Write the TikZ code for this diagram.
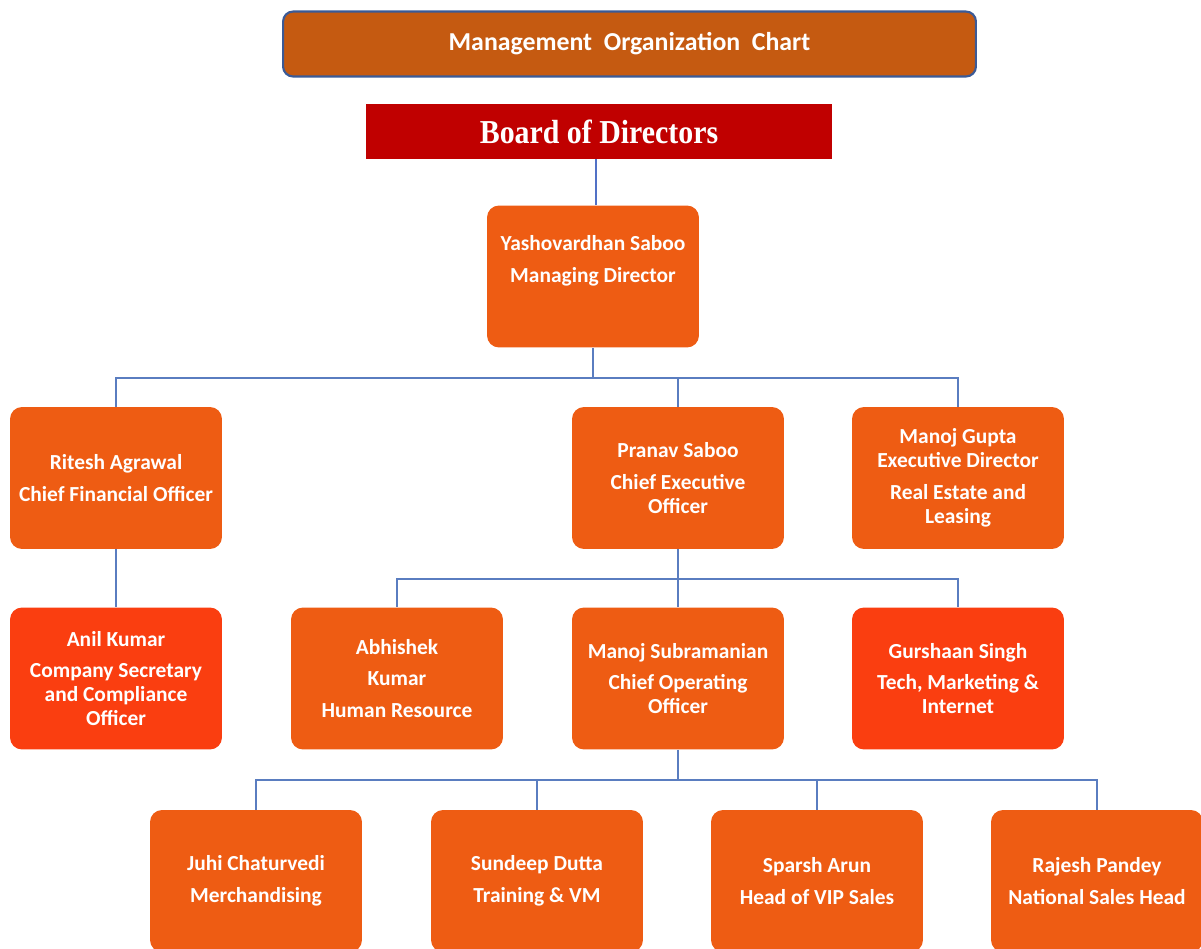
\documentclass[tikz,border=0pt]{standalone}
\usepackage{fontspec}
\setmainfont{Carlito}
\newfontfamily\boardfont{Liberation Serif}
\usetikzlibrary{calc}
\definecolor{titlefill}{HTML}{C55A11}
\definecolor{titleedge}{HTML}{3B5A96}
\definecolor{boardred}{HTML}{C00000}
\definecolor{staffor}{HTML}{EE5C13}
\definecolor{staffred}{HTML}{FA3E10}
\definecolor{linkblue}{HTML}{5A7DC0}
\tikzset{
	staff/.style={rectangle, rounded corners=0.24cm, fill=staffor, text=white,
		font=\fontsize{12.2}{13.6}\selectfont\bfseries, align=center,
		minimum width=4.24cm, minimum height=2.84cm, inner sep=0pt},
	alert/.style={staff, fill=staffred},
	link/.style={draw=linkblue, line width=1.1pt}
}

\begin{document}
\begin{tikzpicture}[x=0.02cm, y=-0.02cm]
			%%%%% START %%%%%
			\useasboundingbox (0, 0) rectangle (1201, 948);
			\clip (0, 0) rectangle (1201, 948);
			
			\node[draw=titleedge, line width=1.2pt, fill=titlefill, rounded corners=0.2cm,
				minimum width=13.86cm, minimum height=1.3cm, text=white,
				font=\fontsize{14.7}{16}\selectfont\bfseries] (title) at (629.5, 44)
				{Management\ \ Organization\ \ Chart};
			
			\node[fill=boardred, minimum width=9.32cm, minimum height=1.1cm, text=white,
				font=\boardfont\fontsize{17}{19}\selectfont\bfseries] (board) at (599, 131.5)
				{\scalebox{1}[1.12]{Board of Directors}};
			
			\node[staff] (md) at (593, 276.5) {Yashovardhan Saboo\\[4.5pt]Managing Director\\[6pt]\mbox{}};
			
			\node[staff] (cfo) at (116, 478) {Ritesh Agrawal\\[4.5pt]Chief Financial Officer};
			\node[staff] (ceo) at (678, 478) {Pranav Saboo\\[4.5pt]Chief Executive\\Officer};
			\node[staff] (ed) at (958, 478) {Manoj Gupta\\Executive Director\\[4.5pt]Real Estate and\\Leasing};
			
			\node[alert] (cs) at (116, 678.5) {Anil Kumar\\[4.5pt]Company Secretary\\and Compliance\\Officer};
			\node[staff] (hr) at (397, 678.5) {Abhishek\\[4.5pt]Kumar\\[4.5pt]Human Resource};
			\node[staff] (coo) at (678, 678.5) {Manoj Subramanian\\[4.5pt]Chief Operating\\Officer};
			\node[alert] (tmi) at (958, 678.5) {Gurshaan Singh\\[4.5pt]Tech, Marketing \&\\Internet};
			
			\node[staff] (mer) at (256, 881) {Juhi Chaturvedi\\[4.5pt]Merchandising};
			\node[staff] (trn) at (537, 881) {Sundeep Dutta\\[4.5pt]Training \& VM};
			\node[staff] (vip) at (817, 881) {Sparsh Arun\\[4.5pt]Head of VIP Sales};
			\node[staff] (nsh) at (1097, 881) {Rajesh Pandey\\[4.5pt]National Sales Head};
			
			% connectors
			\draw[link, line width=1.7pt, draw=linkblue!90!blue] ($(md.north)+(3,0)$) -- ($(md.north |- board.south)+(3,0)$);
			
			\draw[link] (md.south) -- ++(0, 30) coordinate (busA) -| (cfo.north);
			\draw[link] (busA) -| (ceo.north);
			\draw[link] (busA) -| (ed.north);
			
			\draw[link] (cfo.south) -- (cs.north);
			
			\draw[link] (ceo.south) -- ++(0, 30) coordinate (busB) -| (hr.north);
			\draw[link] (busB) -- (coo.north);
			\draw[link] (busB) -| (tmi.north);
			
			\draw[link] (coo.south) -- ++(0, 30) coordinate (busC) -| (mer.north);
			\draw[link] (busC) -| (trn.north);
			\draw[link] (busC) -| (vip.north);
			\draw[link] (busC) -| (nsh.north);
			%%%%% END %%%%%
\end{tikzpicture}
\end{document}
